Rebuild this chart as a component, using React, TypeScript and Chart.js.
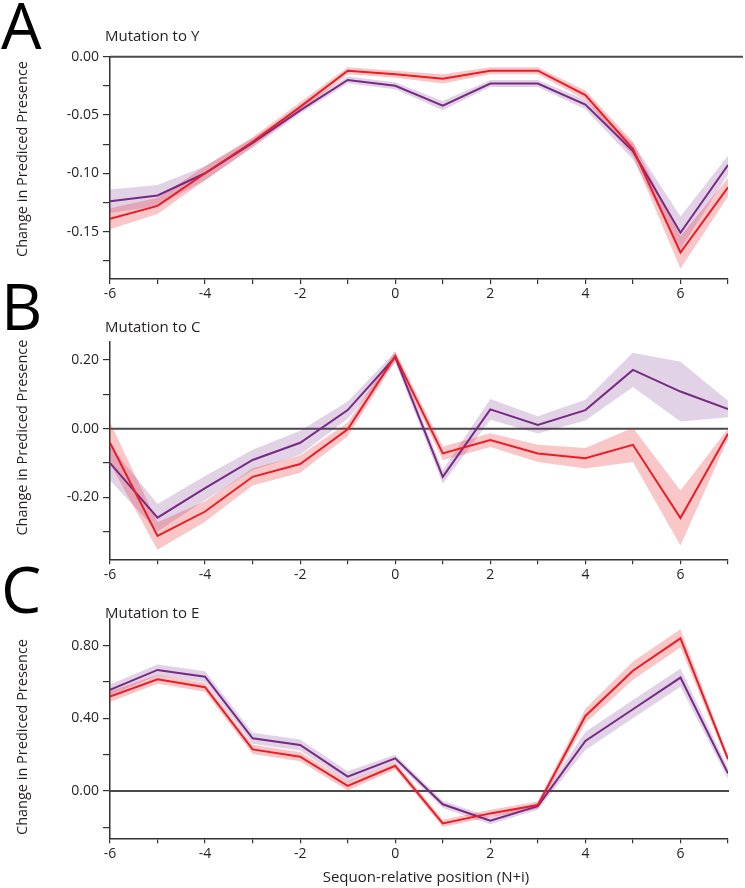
import React, { useEffect, useRef } from "react";
import { Chart, registerables } from "chart.js";

Chart.register(...registerables);

// ---- data ----
const positions = [-6, -5, -4, -3, -2, -1, 0, 1, 2, 3, 4, 5, 6, 7];
const xTicks = [-6, -5, -4, -3, -2, -1, 0, 1, 2, 3, 4, 5, 6, 7];

// Mutation to Y
const yRed = [-0.139, -0.128, -0.1, -0.073, -0.043, -0.012, -0.015, -0.019, -0.012, -0.012, -0.033, -0.079, -0.168, -0.112];
const yRedErr = [0.009, 0.007, 0.006, 0.004, 0.004, 0.003, 0.003, 0.004, 0.003, 0.003, 0.004, 0.006, 0.014, 0.008];
const yPurple = [-0.124, -0.119, -0.1, -0.074, -0.046, -0.02, -0.025, -0.042, -0.023, -0.023, -0.041, -0.081, -0.151, -0.093];
const yPurpleErr = [0.01, 0.009, 0.006, 0.004, 0.003, 0.003, 0.003, 0.004, 0.003, 0.003, 0.004, 0.007, 0.014, 0.008];
const yTicksY = [-0.175, -0.15, -0.125, -0.1, -0.075, -0.05, -0.025, 0];

// Mutation to C
const cRed = [-0.041, -0.312, -0.241, -0.14, -0.103, -0.002, 0.211, -0.072, -0.033, -0.072, -0.086, -0.047, -0.26, -0.015];
const cRedErr = [0.06, 0.04, 0.03, 0.025, 0.025, 0.02, 0.015, 0.02, 0.02, 0.025, 0.03, 0.05, 0.08, 0.015];
const cPurple = [-0.1, -0.259, -0.173, -0.091, -0.041, 0.054, 0.208, -0.14, 0.056, 0.011, 0.054, 0.171, 0.108, 0.057];
const cPurpleErr = [0.05, 0.04, 0.035, 0.03, 0.035, 0.025, 0.015, 0.02, 0.03, 0.025, 0.03, 0.05, 0.087, 0.024];
const yTicksC = [-0.3, -0.2, -0.1, 0, 0.1, 0.2];

// Mutation to E
const eRed = [0.519, 0.615, 0.571, 0.229, 0.189, 0.028, 0.139, -0.178, -0.123, -0.077, 0.413, 0.662, 0.84, 0.176];
const eRedErr = [0.03, 0.025, 0.025, 0.025, 0.025, 0.025, 0.02, 0.02, 0.02, 0.02, 0.04, 0.05, 0.05, 0.02];
const ePurple = [0.556, 0.666, 0.629, 0.29, 0.253, 0.079, 0.18, -0.073, -0.163, -0.083, 0.275, 0.45, 0.624, 0.097];
const ePurpleErr = [0.03, 0.03, 0.03, 0.03, 0.03, 0.03, 0.02, 0.02, 0.02, 0.02, 0.05, 0.05, 0.05, 0.03];
const yTicksE = [-0.2, 0, 0.2, 0.4, 0.6, 0.8];

const panelLetters = ["A", "B", "C"];
const panelTitles = ["Mutation to Y", "Mutation to C", "Mutation to E"];
const yAxisTitle = "Change in Prediced Presence";
const xAxisTitle = "Sequon-relative position (N+i)";

// ---- styles ----
const RED = "#ec1c24";
const PURPLE = "#762a83";
const RED_BAND = "rgba(236, 40, 48, 0.26)";
const PURPLE_BAND = "rgba(120, 50, 140, 0.22)";
const AXIS = "#333333";
const TEXT = "#231f20";
const FONT = "'Open Sans', 'DejaVu Sans', sans-serif";

type PanelCfg = {
  idx: number;
  red: number[];
  redErr: number[];
  purple: number[];
  purpleErr: number[];
  yTicks: number[];
  yMin: number;
  yMax: number;
  major: number;
  top: number;
  height: number;
  padTop: number;
  xAxisH: number;
  letterY: number;
  titleY: number;
  yTitleY: number;
  zeroRight: number;
  xTitleY?: number;
};

const panels: PanelCfg[] = [
  {
    idx: 0, red: yRed, redErr: yRedErr, purple: yPurple, purpleErr: yPurpleErr, yTicks: yTicksY,
    yMin: -0.1907, yMax: 0, major: 0.05,
    top: 0, height: 310, padTop: 56.7, xAxisH: 31,
    letterY: 49, titleY: 41, yTitleY: 159, zeroRight: 743,
  },
  {
    idx: 1, red: cRed, redErr: cRedErr, purple: cPurple, purpleErr: cPurpleErr, yTicks: yTicksC,
    yMin: -0.38, yMax: 0.253, major: 0.2,
    top: 280, height: 310, padTop: 61.7, xAxisH: 30.7,
    letterY: 50, titleY: 51.5, yTitleY: 157.6, zeroRight: 728,
  },
  {
    idx: 2, red: eRed, redErr: eRedErr, purple: ePurple, purpleErr: ePurpleErr, yTicks: yTicksE,
    yMin: -0.26, yMax: 0.95, major: 0.4,
    top: 565, height: 323, padTop: 53.3, xAxisH: 49.7,
    letterY: 48, titleY: 53, yTitleY: 172, zeroRight: 729, xTitleY: 317,
  },
];

const pts = (vals: number[]) => positions.map((p, i) => ({ x: p, y: vals[i] }));
const lower = (vals: number[], err: number[]) => pts(vals.map((v, i) => v - err[i]));
const upper = (vals: number[], err: number[]) => pts(vals.map((v, i) => v + err[i]));

const decor = {
  id: "decor",
  beforeDatasetsDraw(chart: any, _a: any, opts: any) {
    const { ctx, chartArea } = chart;
    const y0 = chart.scales.y.getPixelForValue(0);
    ctx.save();
    ctx.strokeStyle = "#4a4a4a";
    ctx.lineWidth = 2;
    ctx.beginPath();
    ctx.moveTo(chartArea.left, y0);
    ctx.lineTo(opts.zeroRight, y0);
    ctx.stroke();
    ctx.restore();
  },
  afterDraw(chart: any, _a: any, opts: any) {
    const { ctx, chartArea } = chart;
    ctx.save();
    ctx.fillStyle = "#000";
    ctx.textBaseline = "alphabetic";
    ctx.textAlign = "left";
    ctx.font = `400 64px ${FONT}`;
    ctx.fillText(opts.letter, 1, opts.letterY);
    ctx.fillStyle = TEXT;
    ctx.font = `400 15px ${FONT}`;
    ctx.fillText(opts.title, 105, opts.titleY);
    ctx.save();
    ctx.translate(23, opts.yTitleY);
    ctx.rotate(-Math.PI / 2);
    ctx.textAlign = "center";
    ctx.textBaseline = "middle";
    ctx.font = `400 14.5px ${FONT}`;
    ctx.fillText(yAxisTitle, 0, 0);
    ctx.restore();
    if (opts.xTitle) {
      ctx.textAlign = "center";
      ctx.font = `400 15px ${FONT}`;
      ctx.fillText(opts.xTitle, (chartArea.left + chartArea.right) / 2 + 7, opts.xTitleY);
    }
    ctx.restore();
  },
};

function Panel({ cfg }: { cfg: PanelCfg }) {
  const ref = useRef<HTMLCanvasElement>(null);
  useEffect(() => {
    const canvas = ref.current!;
    const tickFont = { family: FONT, size: 14 };
    const chart = new Chart(canvas, {
      type: "line",
      data: {
        datasets: [
          { data: pts(cfg.red), borderColor: RED, borderWidth: 2, pointRadius: 0, tension: 0, fill: false, order: 0 },
          { data: pts(cfg.purple), borderColor: PURPLE, borderWidth: 2, pointRadius: 0, tension: 0, fill: false, order: 1 },
          { data: lower(cfg.red, cfg.redErr), borderColor: "transparent", borderWidth: 0, pointRadius: 0, tension: 0, fill: false, order: 2 },
          { data: upper(cfg.red, cfg.redErr), borderColor: "transparent", borderWidth: 0, pointRadius: 0, tension: 0, fill: { target: 2 }, backgroundColor: RED_BAND, order: 2 },
          { data: lower(cfg.purple, cfg.purpleErr), borderColor: "transparent", borderWidth: 0, pointRadius: 0, tension: 0, fill: false, order: 3 },
          { data: upper(cfg.purple, cfg.purpleErr), borderColor: "transparent", borderWidth: 0, pointRadius: 0, tension: 0, fill: { target: 4 }, backgroundColor: PURPLE_BAND, order: 3 },
        ] as any,
      },
      options: {
        animation: false,
        responsive: false,
        devicePixelRatio: 1,
        events: [],
        layout: { padding: { top: cfg.padTop, left: 0, right: 17, bottom: 0 } },
        plugins: {
          legend: { display: false },
          tooltip: { enabled: false },
          title: { display: false },
          decor: {
            letter: panelLetters[cfg.idx],
            letterY: cfg.letterY,
            title: panelTitles[cfg.idx],
            titleY: cfg.titleY,
            yTitleY: cfg.yTitleY,
            zeroRight: cfg.zeroRight,
            xTitle: cfg.xTitleY !== undefined ? xAxisTitle : null,
            xTitleY: cfg.xTitleY,
          },
        } as any,
        scales: {
          x: {
            type: "linear",
            min: -6,
            max: 7,
            bounds: "data",
            afterBuildTicks: (s: any) => { s.ticks = xTicks.map((v) => ({ value: v })); },
            ticks: {
              autoSkip: false,
              maxRotation: 0,
              color: TEXT,
              font: tickFont,
              padding: 2,
              callback: (v: any) => (Math.round(v) % 2 === 0 ? String(Math.round(v)) : ""),
            },
            grid: { drawOnChartArea: false, drawTicks: true, tickLength: 5, color: AXIS, lineWidth: 1.2 },
            border: { display: true, color: AXIS, width: 1.5 },
            afterFit: (s: any) => { s.height = cfg.xAxisH; },
          },
          y: {
            type: "linear",
            min: cfg.yMin,
            max: cfg.yMax,
            bounds: "data",
            afterBuildTicks: (s: any) => { s.ticks = cfg.yTicks.map((v) => ({ value: v })); },
            ticks: {
              autoSkip: false,
              color: TEXT,
              font: tickFont,
              padding: 4,
              callback: (v: any) => {
                const r = v / cfg.major;
                if (Math.abs(r - Math.round(r)) > 1e-6) return "";
                if (Math.abs(v) < 1e-9) return "0.00";
                return Number(v).toFixed(2);
              },
            },
            grid: { drawOnChartArea: false, drawTicks: true, tickLength: 7, color: AXIS, lineWidth: 1.2 },
            border: { display: true, color: AXIS, width: 1.5 },
            afterFit: (s: any) => { s.width = 110; },
          },
        },
      } as any,
      plugins: [decor as any],
    });
    return () => chart.destroy();
  }, [cfg]);
  return (
    <canvas
      ref={ref}
      width={745}
      height={cfg.height}
      style={{ position: "absolute", left: 0, top: cfg.top, width: 745, height: cfg.height }}
    />
  );
}

export default function App() {
  return (
    <div style={{ position: "absolute", left: 0, top: 0, width: 745, height: 888, background: "#fff", overflow: "hidden" }}>
      {panels.map((p) => (
        <Panel key={p.idx} cfg={p} />
      ))}
    </div>
  );
}
